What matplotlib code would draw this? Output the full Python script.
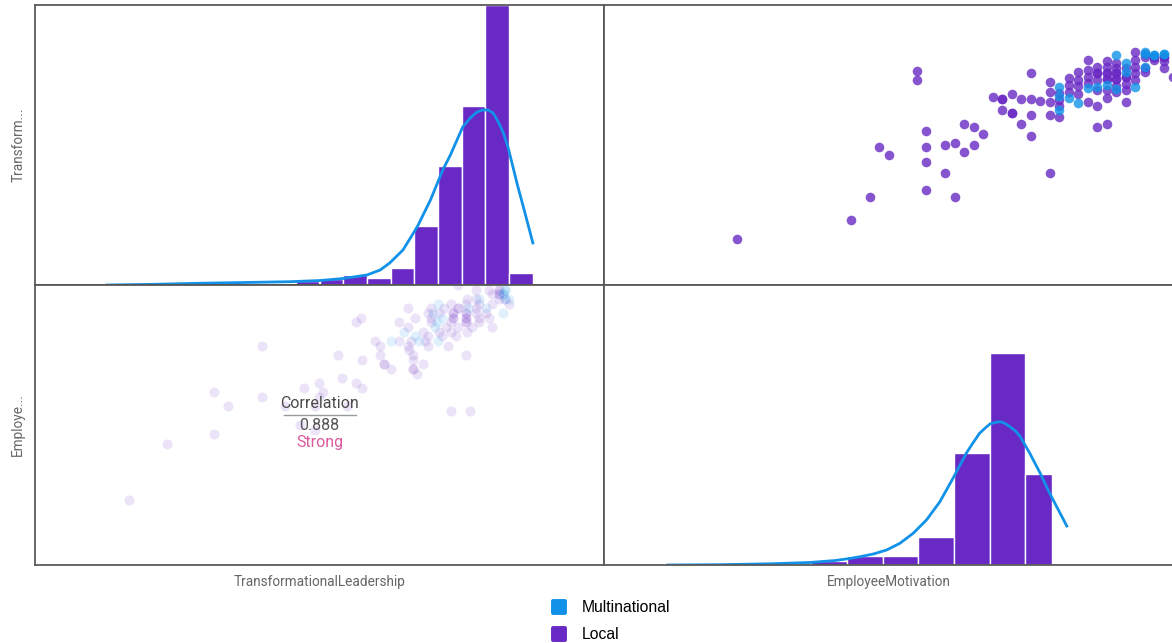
import numpy as np
import matplotlib.pyplot as plt
from matplotlib.lines import Line2D
from matplotlib.markers import MarkerStyle

PURPLE = "#6929c4"
CYAN = "#1192e8"

# respondents: EmployeeMotivation / TransformationalLeadership (both on a 0-6 axis)
local_em = [1.4, 2.6, 2.8, 2.9, 3.0, 3.3, 3.3, 3.4, 3.4, 3.4, 3.4, 3.6, 3.6, 3.7, 3.7,
            3.8, 3.8, 3.9, 3.9, 4.0, 4.1, 4.2, 4.2, 4.2, 4.3, 4.3, 4.3, 4.4, 4.4,
            4.5, 4.5, 4.5, 4.5, 4.6, 4.7, 4.7, 4.7, 4.7, 4.7,
            4.8, 4.8, 4.8, 4.8, 4.9, 4.9, 4.9, 5.0, 5.0, 5.0, 5.0,
            5.1, 5.1, 5.1, 5.1, 5.1, 5.2, 5.2, 5.2, 5.2, 5.2, 5.2,
            5.3, 5.3, 5.3, 5.3, 5.3, 5.3, 5.3, 5.4, 5.4, 5.4, 5.4, 5.4, 5.4,
            5.5, 5.5, 5.5, 5.5, 5.5, 5.6, 5.6, 5.6, 5.6, 5.6,
            5.7, 5.7, 5.7, 5.8, 5.9, 5.9, 6.0,
            5.9, 5.9, 5.8, 5.8, 5.7, 5.3, 5.4, 5.4, 5.2, 5.3, 5.5]
local_tl = [0.99, 1.39, 1.89, 2.95, 2.79, 4.59, 4.39, 3.29, 2.95, 2.64, 2.04, 2.99, 2.39, 3.04, 1.89,
            3.45, 2.84, 3.39, 2.99, 3.24, 4.03, 3.99, 3.99, 3.75, 4.09, 3.68, 3.68, 3.99, 3.45,
            4.55, 3.99, 3.64, 3.19, 3.94, 4.35, 4.14, 3.93, 3.64, 2.39,
            4.11, 3.96, 3.84, 3.59, 4.44, 4.29, 4.14, 4.56, 4.39, 4.26, 4.09,
            4.82, 4.61, 4.46, 4.33, 3.93, 4.68, 4.54, 4.39, 4.18, 3.84, 3.39,
            4.79, 4.68, 4.54, 4.41, 4.18, 4.01, 3.44, 4.76, 4.65, 4.54, 4.41, 4.26, 4.14,
            4.65, 4.46, 4.31, 4.18, 3.93, 5.0, 4.82, 4.68, 4.54, 4.39,
            4.89, 4.65, 4.56, 4.82, 4.79, 4.65, 4.46,
            4.89, 4.89, 4.89, 4.89, 4.96, 4.54, 4.54, 4.41, 4.54, 4.41, 4.46]
multi_em = [4.8, 4.8, 4.9, 5.0, 5.1, 5.2, 5.3, 5.4, 5.5, 5.5, 5.6, 5.7, 5.7, 5.8, 5.9,
            5.8, 5.9, 5.7, 5.4, 4.8]
multi_tl = [4.25, 3.75, 4.01, 3.89, 4.22, 4.24, 4.29, 4.93, 4.76, 4.57, 4.25, 5.0, 4.68, 4.93, 4.96,
            4.93, 4.96, 4.96, 4.2, 4.05]

# TransformationalLeadership histogram + density curve
tl_edges = [1.0, 1.25, 1.5, 1.75, 2.0, 2.25, 2.5, 2.75, 3.0, 3.25, 3.5, 3.75,
            4.0, 4.25, 4.5, 4.75, 5.0, 5.25]
tl_freq = [1, 1, 1, 1, 1, 1, 1.7, 3.5, 5.5, 9.5, 7, 16.5, 58.5, 118.5, 179, 280, 11.5]
tl_kde_x = [0.76, 1.21, 1.77, 2.27, 2.69, 3.01, 3.25, 3.50, 3.64, 3.74, 3.88, 4.03, 4.17,
            4.30, 4.38, 4.45, 4.51, 4.59, 4.66, 4.72, 4.78, 4.83, 4.88, 4.94, 4.99, 5.04,
            5.09, 5.15, 5.20, 5.25]
tl_kde_y = [0, 0.6, 1.8, 2.6, 3.3, 4.5, 6.5, 10, 15, 22, 35, 58, 85, 115, 130, 145, 158,
            167, 173, 175, 175, 172, 164, 152, 137, 118, 99, 78, 60, 42]

# EmployeeMotivation histogram + density curve
em_edges = [1.42, 1.80, 2.18, 2.56, 2.94, 3.31, 3.69, 4.07, 4.44, 4.72]
em_freq = [1, 1, 4.5, 9.5, 9.5, 28, 112, 212, 91]
em_kde_x = [0.67, 1.22, 1.75, 2.17, 2.44, 2.59, 2.70, 2.84, 2.98, 3.12, 3.26, 3.40, 3.54,
            3.68, 3.82, 3.89, 3.96, 4.02, 4.07, 4.12, 4.18, 4.23, 4.28, 4.34, 4.39, 4.49,
            4.60, 4.70, 4.81, 4.88]
em_kde_y = [0, 0.3, 1.2, 2.5, 4.5, 6.5, 8.3, 11, 15, 21.7, 31.7, 45, 63, 86.7, 111.7,
            122, 131.7, 137, 141, 142.5, 143.3, 141.5, 138.3, 134, 128.3, 111.7, 91.7,
            71.7, 51.7, 39]

W, H = 1172, 643
fig = plt.figure(figsize=(W / 100, H / 100), dpi=100)


def box(left, top, w, h):
    return [left / W, 1 - (top + h) / H, w / W, h / H]


ax_tl = fig.add_axes(box(35, 5, 569, 280))
ax_tr = fig.add_axes(box(604, 5, 569, 280))
ax_bl = fig.add_axes(box(35, 285, 569, 280))
ax_br = fig.add_axes(box(604, 285, 569, 280))

for ax in (ax_tl, ax_tr, ax_bl, ax_br):
    ax.set_xticks([])
    ax.set_yticks([])
    ax.set_xlim(0, 6)
    for side, sp in ax.spines.items():
        sp.set_color("#5a5a5a")
        sp.set_linewidth(1.3)
for ax in (ax_tr, ax_br):
    ax.spines["right"].set_visible(False)
ax_tl.spines["bottom"].set_color("#333333")
ax_tl.spines["right"].set_color("#333333")

# histograms on the diagonal
ax_tl.bar(tl_edges[:-1], tl_freq, width=np.diff(tl_edges), align="edge",
          color=PURPLE, edgecolor="white", linewidth=1)
ax_tl.plot(tl_kde_x, tl_kde_y, color=CYAN, lw=2, solid_joinstyle="round")
ax_tl.set_ylim(0, 280)

ax_br.bar(em_edges[:-1], em_freq, width=np.diff(em_edges), align="edge",
          color=PURPLE, edgecolor="white", linewidth=1)
ax_br.plot(em_kde_x, em_kde_y, color=CYAN, lw=2, solid_joinstyle="round")
ax_br.set_ylim(0, 280)

# scatter: EmployeeMotivation vs TransformationalLeadership
ax_tr.scatter(local_em, local_tl, s=48, color=PURPLE, alpha=0.8, linewidths=0)
ax_tr.scatter(multi_em, multi_tl, s=48, color=CYAN, alpha=0.8, linewidths=0)
ax_tr.set_ylim(0, 6)

ax_bl.scatter(local_tl, local_em, s=52, color=PURPLE, alpha=0.13, linewidths=0)
ax_bl.scatter(multi_tl, multi_em, s=52, color=CYAN, alpha=0.13, linewidths=0)
ax_bl.set_ylim(0, 6)

# correlation annotation
ax_bl.text(0.5, 0.575, "Correlation", transform=ax_bl.transAxes, ha="center",
           va="center", fontsize=11.5, family="Roboto", color="#4a4a4a")
ax_bl.plot([0.437, 0.564], [0.536, 0.536], transform=ax_bl.transAxes,
           color="#9a9a9a", lw=1)
ax_bl.text(0.5, 0.497, "0.888", transform=ax_bl.transAxes, ha="center",
           va="center", fontsize=11.5, family="Roboto", color="#555555")
ax_bl.text(0.5, 0.437, "Strong", transform=ax_bl.transAxes, ha="center",
           va="center", fontsize=11.5, family="Roboto", color="#dc5a9d")

lab = dict(fontsize=9.8, family="Roboto", color="#666666")
ax_bl.set_xlabel("TransformationalLeadership", labelpad=7, **lab)
ax_br.set_xlabel("EmployeeMotivation", labelpad=7, **lab)
ax_tl.set_ylabel("Transform...", labelpad=7, **lab)
ax_bl.set_ylabel("Employe...", labelpad=7, **lab)

rsq = MarkerStyle("s", joinstyle="round")
handles = [Line2D([], [], ls="none", marker=rsq, markersize=8, markeredgewidth=2.8,
                  color=CYAN, label="Multinational"),
           Line2D([], [], ls="none", marker=rsq, markersize=8, markeredgewidth=2.8,
                  color=PURPLE, label="Local")]
fig.legend(handles=handles, loc="upper left", bbox_to_anchor=(0.4698, 0.0668),
           frameon=False, borderpad=0, borderaxespad=0, handlelength=1.1,
           handletextpad=0.9, labelspacing=0.78,
           prop={"family": "Liberation Sans", "size": 11.3})

plt.savefig("out.png", dpi=100)
